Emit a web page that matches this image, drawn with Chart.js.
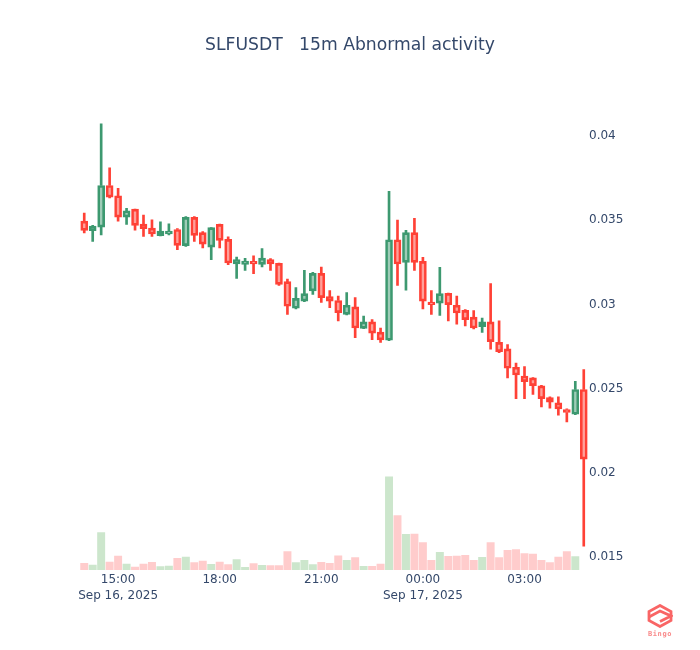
<!DOCTYPE html>
<html>
<head>
<meta charset="utf-8">
<title>SLFUSDT 15m</title>
<script src="https://cdn.jsdelivr.net/npm/chart.js@4"></script>
<style>
    html, body { margin: 0; padding: 0; background: #fff; }
    #wrap { position: relative; width: 700px; height: 650px; }
    #logo { position: absolute; left: 647px; top: 604px; }
    #logoText { position: absolute; left: 640px; top: 630px; width: 40px; text-align: center;
        font: bold 7px "DejaVu Sans Mono", monospace; letter-spacing: 0.6px; color: #f98a8a; }
</style>
</head>
<body>
<div id="wrap">
    <canvas id="chart" width="700" height="650"></canvas>
    <svg id="logo" width="26" height="24" viewBox="0 0 26 24" fill="none" stroke="#f96565" stroke-width="2.8">
        <path d="M13 1.5 L24 7.5 V16.5 L13 22.5 L2 16.5 V7.5 Z"/>
        <path d="M2 13 L13 7 L24 12 L13 17.5"/>
    </svg>
    <div id="logoText">Bingo</div>
</div>
<script>
// 时间标签
const times = ['14:00','14:15','14:30','14:45','15:00','15:15','15:30','15:45','16:00','16:15','16:30','16:45',
    '17:00','17:15','17:30','17:45','18:00','18:15','18:30','18:45','19:00','19:15','19:30','19:45',
    '20:00','20:15','20:30','20:45','21:00','21:15','21:30','21:45','22:00','22:15','22:30','22:45',
    '23:00','23:15','23:30','23:45','00:00','00:15','00:30','00:45','01:00','01:15','01:30','01:45',
    '02:00','02:15','02:30','02:45','03:00','03:15','03:30','03:45','04:00','04:15','04:30','04:45'];

// K线数据
const opens = [.03495,.03438,.03459,.03706,.03645,.03518,.03566,.03477,.03453,.03408,.03418,.03445,
    .03349,.03517,.03426,.03340,.03475,.03386,.03240,.03238,.03256,.03238,.03266,.03244,
    .03135,.02977,.03020,.03080,.03184,.03046,.03023,.02941,.02985,.02858,.02896,.02835,
    .02787,.03384,.03250,.03426,.03256,.03014,.03008,.03066,.02995,.02965,.02925,.02868,
    .02896,.02775,.02736,.02627,.02575,.02564,.02516,.02447,.02415,.02376,.02348,.02495];
const highs = [.03542,.03469,.04072,.03811,.03690,.03570,.03566,.03530,.03503,.03491,.03479,.03450,
    .03521,.03521,.03432,.03456,.03477,.03402,.03281,.03273,.03289,.03331,.03272,.03246,
    .03151,.03100,.03202,.03190,.03222,.03082,.03050,.03070,.03040,.02931,.02910,.02860,
    .03671,.03501,.03440,.03511,.03279,.03082,.03220,.03068,.03050,.02969,.02963,.02919,
    .03123,.02902,.02762,.02651,.02631,.02566,.02520,.02451,.02451,.02380,.02544,.02613];
const lows = [.03424,.03374,.03412,.03633,.03495,.03475,.03441,.03404,.03404,.03406,.03412,.03325,
    .03345,.03374,.03335,.03266,.03335,.03236,.03155,.03202,.03183,.03222,.03202,.03113,
    .02941,.02973,.03017,.03060,.03012,.02981,.02902,.02937,.02803,.02856,.02791,.02775,
    .02785,.03113,.03084,.03202,.02973,.02941,.02934,.02902,.02882,.02872,.02854,.02833,
    .02734,.02714,.02564,.02441,.02441,.02465,.02392,.02384,.02342,.02303,.02346,.01565];
const closes = [.03440,.03465,.03706,.03637,.03518,.03556,.03469,.03450,.03418,.03435,.03435,.03351,
    .03517,.03410,.03358,.03456,.03380,.03246,.03266,.03257,.03240,.03275,.03240,.03119,
    .02989,.03036,.03064,.03184,.03040,.03020,.02951,.02995,.02860,.02896,.02830,.02789,
    .03384,.03240,.03426,.03250,.03020,.02999,.03064,.02999,.02949,.02910,.02860,.02896,
    .02779,.02720,.02621,.02581,.02542,.02518,.02441,.02419,.02380,.02358,.02495,.02081];

// 成交量 (最后一根没有成交量)
const volumes = [7000,5300,37700,8300,14300,6300,3300,6300,8000,3700,4300,12000,
    13300,7700,9300,6000,8300,5700,10700,3000,6700,5000,4700,4700,
    18700,7700,10000,5700,8000,7000,14500,10000,12700,4000,4000,6300,
    93700,54700,36000,36300,27700,10000,18000,14000,14300,15000,10000,13000,
    27700,12700,20000,20700,16700,16300,10000,7700,13300,18700,13700,null];

const priceTicks = [0.015, 0.02, 0.025, 0.03, 0.035, 0.04];
const timeTicks = {
    '15:00': ['15:00', 'Sep 16, 2025'],
    '18:00': '18:00',
    '21:00': '21:00',
    '00:00': ['00:00', 'Sep 17, 2025'],
    '03:00': '03:00'
};

const RED = '#FF4136';
const GREEN = '#3D9970';
const FONT = '"DejaVu Sans", Verdana, sans-serif';
const TEXT = '#34486a';

const isUp = times.map((_, i) => closes[i] >= opens[i]);
const lineColors = isUp.map(up => up ? GREEN : RED);
const fillColors = isUp.map(up => up ? 'rgba(61,153,112,0.5)' : 'rgba(255,65,54,0.5)');
const volColors = isUp.map(up => up ? 'rgb(204,230,204)' : 'rgb(255,204,204)');

function bodyTop(i) { return Math.max(opens[i], closes[i]); }
function bodyBottom(i) { return Math.min(opens[i], closes[i]); }

new Chart(document.getElementById('chart').getContext('2d'), {
    type: 'bar',
    data: {
        labels: times,
        datasets: [
            {
                label: 'volume',
                yAxisID: 'vol',
                data: volumes,
                backgroundColor: volColors,
                barPercentage: 1,
                categoryPercentage: 0.94,
                order: 4
            },
            {
                label: 'upper wick',
                yAxisID: 'price',
                data: times.map((_, i) => [bodyTop(i), highs[i]]),
                backgroundColor: lineColors,
                barThickness: 2,
                order: 3
            },
            {
                label: 'lower wick',
                yAxisID: 'price',
                data: times.map((_, i) => [lows[i], bodyBottom(i)]),
                backgroundColor: lineColors,
                barThickness: 2,
                order: 2
            },
            {
                label: 'body',
                yAxisID: 'price',
                data: times.map((_, i) => [bodyBottom(i), bodyTop(i)]),
                backgroundColor: fillColors,
                borderColor: lineColors,
                borderWidth: 2,
                borderSkipped: false,
                barThickness: 7,
                order: 1
            }
        ]
    },
    options: {
        responsive: false,
        animation: false,
        grouped: false,
        plugins: {
            legend: { display: false },
            tooltip: { enabled: false },
            title: {
                display: true,
                text: 'SLFUSDT   15m Abnormal activity',
                color: TEXT,
                font: { family: FONT, size: 17.2, weight: 'normal' },
                padding: { top: 35, bottom: 45 }
            }
        },
        scales: {
            x: {
                grid: { display: false, drawTicks: false },
                border: { display: false },
                afterFit: scale => { scale.height = 80; },
                ticks: {
                    autoSkip: false,
                    maxRotation: 0,
                    padding: 2,
                    color: TEXT,
                    font: { family: FONT, size: 12, lineHeight: 1.35 },
                    callback: function (value) {
                        return timeTicks[this.getLabelForValue(value)] || '';
                    }
                }
            },
            price: {
                position: 'right',
                min: 0.01423,
                max: 0.0421,
                grid: { display: false, drawTicks: false },
                border: { display: false },
                afterFit: scale => { scale.width = 112; },
                afterBuildTicks: scale => { scale.ticks = priceTicks.map(v => ({ value: v })); },
                ticks: {
                    padding: 1,
                    color: TEXT,
                    font: { family: FONT, size: 12 },
                    callback: v => String(+v.toFixed(3))
                }
            },
            // 成交量轴: 不显示, 只占左边距
            vol: {
                position: 'left',
                min: 0,
                max: 470000,
                grid: { display: false, drawTicks: false },
                border: { display: false },
                ticks: { display: false },
                afterFit: scale => { scale.width = 80; }
            }
        }
    }
});
</script>
</body>
</html>
